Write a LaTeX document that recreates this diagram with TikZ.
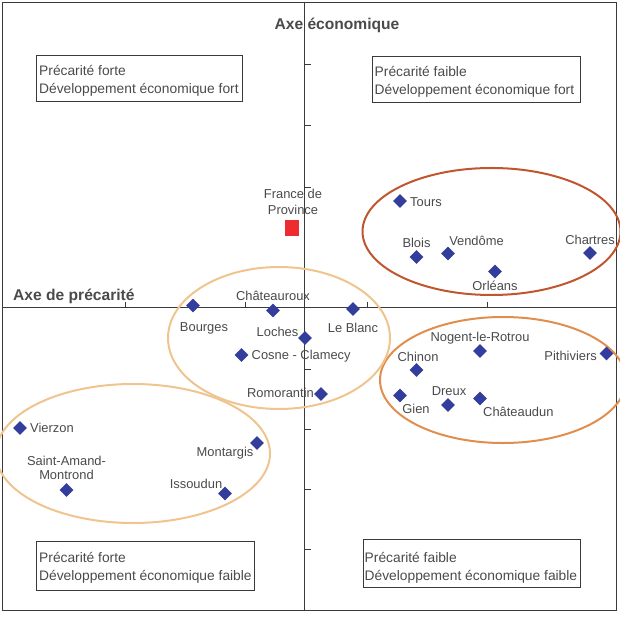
\documentclass[tikz,border=0pt]{standalone}
\usepackage{fontspec}
\setmainfont{Liberation Sans}
\usetikzlibrary{shapes.geometric}
\definecolor{ink}{HTML}{4A4A4A}
\definecolor{frameink}{HTML}{3A3A3A}
\definecolor{mark}{HTML}{333D9B}
\definecolor{ringred}{HTML}{C0562F}
\definecolor{ringorange}{HTML}{E08E4E}
\definecolor{ringpale}{HTML}{F0C48E}
\definecolor{squarered}{HTML}{EE2B30}
\tikzset{
  pt/.style={diamond,fill=mark,inner sep=0pt,minimum width=14pt,minimum height=14pt},
  lab/.style={text=ink,font=\fontsize{12.9}{13.5}\selectfont,inner sep=0pt,align=center},
  quad/.style={draw=frameink,line width=.7pt,inner sep=0pt,anchor=north west},
  quadtext/.style={text=ink,font=\fontsize{13.8}{18}\selectfont,inner sep=0pt,align=left,anchor=west},
  axisline/.style={draw=frameink,line width=.7pt},
  tick/.style={draw=frameink,line width=.5pt},
  axt/.style={text=ink,font=\fontsize{15.6}{17}\selectfont\bfseries,inner sep=0pt},
  ring/.style={line width=2pt,fill=none}
}
\begin{document}
\begin{tikzpicture}[x=1pt,y=-1pt]
\useasboundingbox (0,0) rectangle (620,617);
\draw[axisline] (2.5,2) rectangle (616,610.5);
\coordinate (vt) at (304.5,2); \coordinate (vb) at (304.5,610.5);
\coordinate (hl) at (2.5,307.5); \coordinate (hr) at (616,307.5);
\draw[axisline] (vt) -- (vb);
\draw[axisline] (hl) -- (hr);
\foreach \y in {64.5,125.5,187,369,429.5,489.5,549.5} \draw[tick] (304.5,\y) -- (311,\y);
\foreach \x in {125,245,367,487} \draw[tick] (\x,307.5) -- (\x,302);
% rings
\draw[ring,ringred] (491.5,231.5) ellipse [x radius=129,y radius=63.5];
\draw[ring,ringorange] (503,380) ellipse [x radius=123,y radius=63];
\draw[ring,ringpale] (279,338) ellipse [x radius=111,y radius=71];
\draw[ring,ringpale] (133,453.5) ellipse [x radius=137,y radius=69.5];
% axis titles
\node[axt] (axe1) at (337,25) {Axe économique};
\node[axt,anchor=west] (axe2) at (13,296) {Axe de précarité};
% quadrant boxes
\node[quad,minimum width=206pt,minimum height=46pt] (q1) at (36,55) {};
\node[quadtext] (q1t) at (39,81) {Précarité forte\\Développement économique fort};
\node[quad,minimum width=208pt,minimum height=46pt] (q2) at (372,56) {};
\node[quadtext] (q2t) at (374.5,81.5) {Précarité faible\\Développement économique fort};
\node[quad,minimum width=218pt,minimum height=49pt] (q3) at (36,541) {};
\node[quadtext] (q3t) at (39,568) {Précarité forte\\Développement économique faible};
\node[quad,minimum width=217pt,minimum height=48pt] (q4) at (362.5,539) {};
\node[quadtext] (q4t) at (364.5,567.5) {Précarité faible\\Développement économique faible};
% France
\node[fill=squarered,minimum width=14pt,minimum height=16pt,inner sep=0pt] (fr) at (292,228) {};
\node[lab] (frl) at (293,202) {France de\\[3pt]Province};
% points
\node[pt] (tours) at (400,201) {};
\node[lab,anchor=west] (toursl) at (410,202) {Tours};
\node[pt] (blois) at (416.5,257) {};
\node[lab] (bloisl) at (416.5,243) {Blois};
\node[pt] (vend) at (448,253.5) {};
\node[lab] (vendl) at (476.5,241) {Vendôme};
\node[pt] (orl) at (495,271.5) {};
\node[lab] (orll) at (495,286) {Orléans};
\node[pt] (cha) at (590,253) {};
\node[lab] (chal) at (590,239.5) {Chartres};
\node[pt] (bou) at (193,305.5) {};
\node[lab] (boul) at (204,328) {Bourges};
\node[pt] (chx) at (273,310.5) {};
\node[lab] (chxl) at (273,296) {Châteauroux};
\node[pt] (leb) at (353,309) {};
\node[lab] (lebl) at (353,328) {Le Blanc};
\node[pt] (loc) at (305,338) {};
\node[lab] (locl) at (277.5,331.5) {Loches};
\node[pt] (cos) at (241.5,355) {};
\node[lab,anchor=west] (cosl) at (251.5,356.5) {Cosne - Clamecy};
\node[pt] (rom) at (321,394) {};
\node[lab,anchor=east] (roml) at (314,393) {Romorantin};
\node[pt] (vie) at (20,428) {};
\node[lab,anchor=west] (viel) at (30,428) {Vierzon};
\node[pt] (mon) at (257,443) {};
\node[lab] (monl) at (225,453.5) {Montargis};
\node[pt] (sam) at (66.5,490) {};
\node[lab] (saml) at (66.5,468) {Saint-Amand-\\Montrond};
\node[pt] (iss) at (225,493.5) {};
\node[lab] (issl) at (196,484) {Issoudun};
\node[pt] (nog) at (480,351) {};
\node[lab] (nogl) at (480,338.5) {Nogent-le-Rotrou};
\node[pt] (pit) at (606.5,353.5) {};
\node[lab,anchor=east] (pitl) at (597,356) {Pithiviers};
\node[pt] (chi) at (416.5,370) {};
\node[lab] (chil) at (418,357) {Chinon};
\node[pt] (gie) at (400,395.5) {};
\node[lab] (giel) at (416,408.5) {Gien};
\node[pt] (dre) at (448,405) {};
\node[lab] (drel) at (449,391) {Dreux};
\node[pt] (chd) at (480,398.5) {};
\node[lab,anchor=west] (chdl) at (483,411.5) {Châteaudun};
\end{tikzpicture}
\end{document}
